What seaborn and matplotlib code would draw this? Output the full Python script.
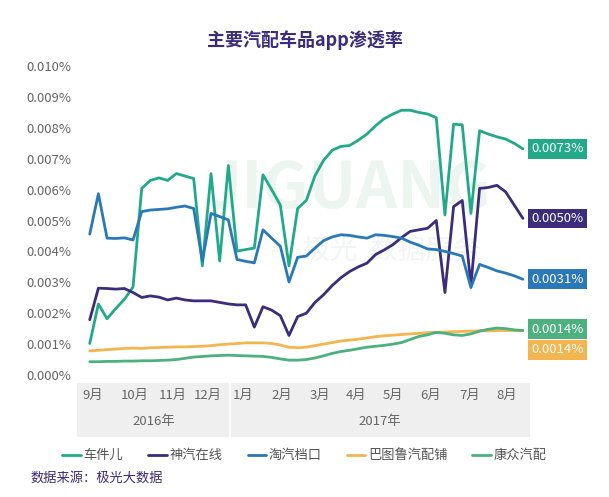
import matplotlib.pyplot as plt
import matplotlib.patches as mpatches
from matplotlib.lines import Line2D
import seaborn as sns
import pandas as pd

# weekly app penetration, Sep 2016 - Aug 2017, unit: 0.001%
weeks = list(range(51))
che_jian_er = [1.02, 2.30, 1.82, 2.15, 2.45, 2.85, 6.04, 6.30, 6.38, 6.30,
               6.52, 6.44, 6.36, 3.53, 6.52, 3.69, 6.78, 4.01, 4.06, 4.11,
               6.48, 6.00, 5.50, 3.53, 5.39, 5.65, 6.45, 6.95, 7.28, 7.40,
               7.43, 7.60, 7.80, 8.07, 8.30, 8.45, 8.57, 8.57, 8.50, 8.45,
               8.33, 5.18, 8.12, 8.10, 5.23, 7.91, 7.80, 7.71, 7.64, 7.50, 7.32]
shen_qi = [1.79, 2.81, 2.80, 2.78, 2.80, 2.67, 2.51, 2.56, 2.52, 2.43,
           2.49, 2.43, 2.40, 2.40, 2.40, 2.35, 2.30, 2.27, 2.27, 1.55,
           2.21, 2.10, 1.92, 1.28, 1.89, 2.00, 2.35, 2.60, 2.90, 3.15,
           3.35, 3.50, 3.62, 3.90, 4.05, 4.22, 4.45, 4.65, 4.70, 4.75,
           5.00, 2.67, 5.45, 5.65, 2.90, 6.04, 6.07, 6.14, 5.93, 5.50, 5.07]
tao_qi = [4.56, 5.87, 4.43, 4.42, 4.44, 4.37, 5.29, 5.34, 5.36, 5.38,
          5.43, 5.47, 5.39, 3.69, 5.23, 5.13, 5.02, 3.74, 3.68, 3.63,
          4.70, 4.43, 4.17, 3.01, 3.81, 3.85, 4.11, 4.35, 4.47, 4.54,
          4.52, 4.47, 4.43, 4.54, 4.52, 4.48, 4.43, 4.30, 4.20, 4.08,
          4.06, 4.00, 3.93, 3.85, 2.83, 3.58, 3.48, 3.37, 3.30, 3.21, 3.10]
ba_tu_lu = [0.78, 0.80, 0.82, 0.84, 0.86, 0.87, 0.86, 0.88, 0.89, 0.90,
            0.91, 0.91, 0.92, 0.93, 0.95, 0.98, 1.00, 1.02, 1.04, 1.04,
            1.04, 1.02, 0.97, 0.90, 0.88, 0.90, 0.95, 1.00, 1.05, 1.10,
            1.13, 1.16, 1.20, 1.24, 1.27, 1.29, 1.31, 1.33, 1.35, 1.37,
            1.38, 1.39, 1.40, 1.41, 1.42, 1.43, 1.43, 1.44, 1.44, 1.44, 1.44]
kang_zhong = [0.43, 0.43, 0.44, 0.44, 0.45, 0.45, 0.46, 0.46, 0.47, 0.48,
              0.50, 0.54, 0.58, 0.60, 0.62, 0.63, 0.64, 0.63, 0.62, 0.61,
              0.60, 0.57, 0.52, 0.48, 0.48, 0.50, 0.55, 0.62, 0.70, 0.76,
              0.80, 0.85, 0.90, 0.93, 0.96, 1.00, 1.05, 1.15, 1.25, 1.30,
              1.38, 1.35, 1.30, 1.28, 1.33, 1.42, 1.48, 1.52, 1.50, 1.46, 1.44]

apps = ["车件儿", "神汽在线", "淘汽档口", "巴图鲁汽配铺", "康众汽配"]
series = [che_jian_er, shen_qi, tao_qi, ba_tu_lu, kang_zhong]
colors = ["#22a98a", "#3b2c7c", "#2a78b8", "#f2b54f", "#4db17f"]
end_labels = ["0.0073%", "0.0050%", "0.0031%", "0.0014%", "0.0014%"]

month_labels = ["9月", "10月", "11月", "12月", "1月", "2月",
                "3月", "4月", "5月", "6月", "7月", "8月"]
month_pos = [0.35, 5.2, 9.6, 13.6, 17.7, 22.2, 26.6, 30.8, 35.0, 39.3, 43.9, 48.1]
years = ["2016年", "2017年"]
year_split = 16.2
y_ticks = [0, 1, 2, 3, 4, 5, 6, 7, 8, 9, 10]

sns.set_theme(style="white")
plt.rcParams["font.family"] = ["Noto Sans CJK SC", "DejaVu Sans"]

df = pd.concat(
    [pd.DataFrame({"week": weeks, "value": s, "app": a}) for a, s in zip(apps, series)],
    ignore_index=True)

fig = plt.figure(figsize=(6.09, 4.97), dpi=100)
ax = fig.add_axes([0.126, 0.2455, 0.744, 0.6215])

# faint watermark
ax.text(0.6, 0.6, "JIGUANG", transform=ax.transAxes, ha="center", va="center",
        fontsize=46, fontweight="bold", color="#edf5f1", zorder=0)
ax.text(0.66, 0.4, "— 极光  数据服务", transform=ax.transAxes, ha="center", va="center",
        fontsize=20, color="#eff6f3", zorder=0)

sns.lineplot(data=df, x="week", y="value", hue="app", palette=colors,
             linewidth=2, ax=ax, legend=False, zorder=3)

ax.set_xlim(-1.5, 50.8)
ax.set_ylim(0, 10)
ax.set_yticks(y_ticks)
ax.set_yticklabels([f"{t / 1000:.3f}%" for t in y_ticks], color="#666666", fontsize=9.5)
ax.tick_params(axis="y", length=0, pad=4)
ax.set_xticks([])
ax.set_xlabel("")
ax.set_ylabel("")
sns.despine(ax=ax, left=True, bottom=True)

# grey category band under the axis
trans = ax.get_xaxis_transform()
ax.add_patch(mpatches.Rectangle((-1.5, -0.2), 52.3, 0.174, transform=trans,
                                facecolor="#efefef", edgecolor="none", clip_on=False))
ax.plot([year_split, year_split], [-0.2, -0.026], transform=trans, color="white",
        lw=1.2, clip_on=False)
for pos, lab in zip(month_pos, month_labels):
    ax.text(pos, -0.066, lab, transform=trans, ha="center", va="center",
            fontsize=9.5, color="#666666")
ax.text((-1.5 + year_split) / 2, -0.152, years[0], transform=trans, ha="center",
        va="center", fontsize=9.5, color="#666666")
ax.text((year_split + 50.8) / 2, -0.152, years[1], transform=trans, ha="center",
        va="center", fontsize=9.5, color="#666666")

# end value tags
offsets = [0, 0, 0, -14, 1]
for s, c, lab, dy in zip(series, colors, end_labels, offsets):
    ax.annotate(lab, xy=(weeks[-1], s[-1]), xytext=(6, dy), textcoords="offset points",
                ha="left", va="center", fontsize=9.5, color="white",
                bbox=dict(boxstyle="square,pad=0.25", facecolor=c, edgecolor="none"),
                annotation_clip=False, zorder=5)

handles = [Line2D([0], [0], color=c, lw=2) for c in colors]
fig.legend(handles, apps, loc="center", bbox_to_anchor=(0.5, 0.083), ncol=5,
           frameon=False, fontsize=9.5, handlelength=1.4, handletextpad=0.2,
           columnspacing=1.9, labelcolor="#555555")

fig.text(0.5, 0.92, "主要汽配车品app渗透率", ha="center", va="center",
         fontsize=13, fontweight="bold", color="#3b2c7c")
fig.text(0.05, 0.038, "数据来源：极光大数据", ha="left", va="center",
         fontsize=9.5, style="italic", color="#3b2c7c")

fig.savefig("out.png", dpi=100)
